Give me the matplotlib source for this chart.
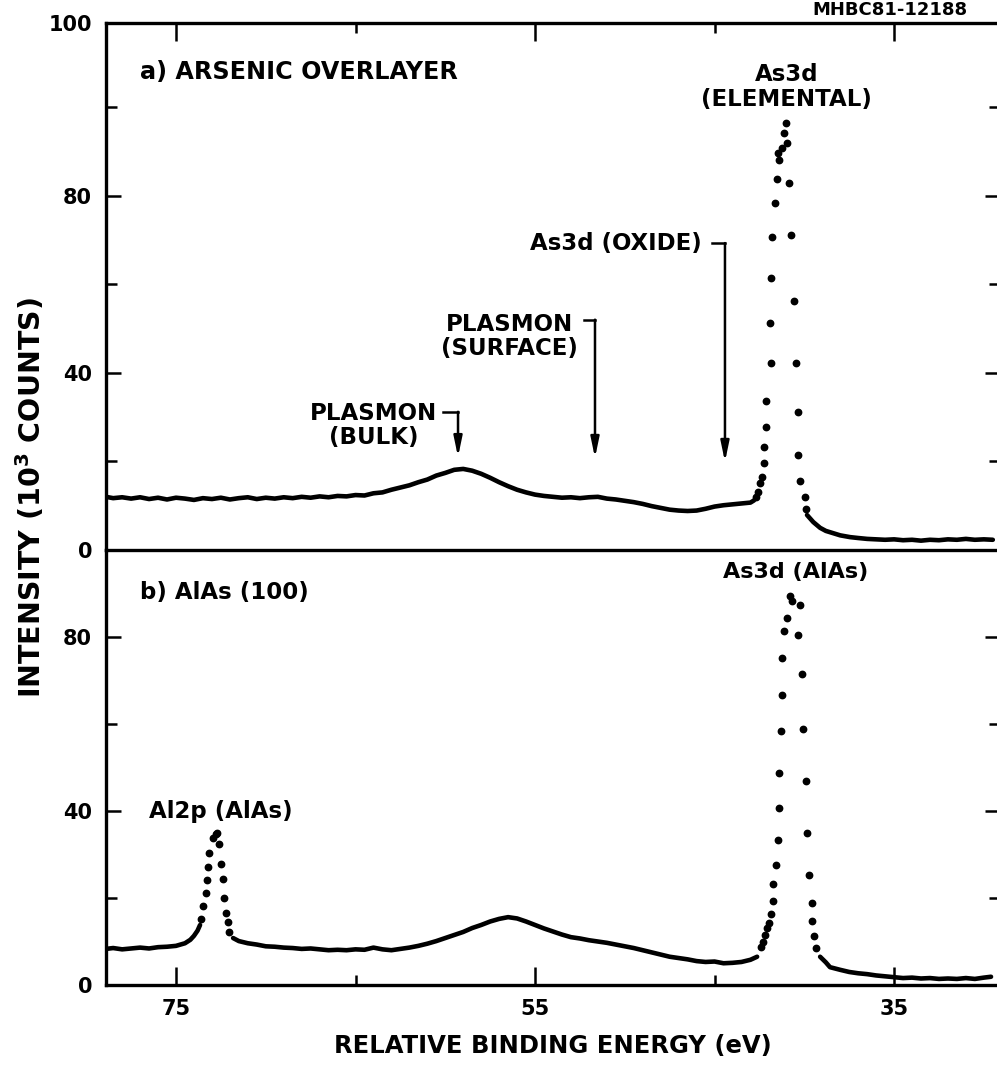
import matplotlib
matplotlib.use("Agg")
import matplotlib.pyplot as plt

plt.rcParams['font.family'] = ['DejaVu Sans']
plt.rcParams['font.weight'] = 'bold'
plt.rcParams['mathtext.fontset'] = 'custom'
plt.rcParams['mathtext.bf'] = 'DejaVu Sans:bold'
plt.rcParams['mathtext.rm'] = 'DejaVu Sans:bold'
plt.rcParams['mathtext.default'] = 'bf'

# a) arsenic overlayer : smooth background, As3d peak (sparse points), tail
a_energy = [78.9, 78.5, 78.0, 77.5, 77.0, 76.5, 76.0, 75.5, 75.0, 74.5, 74.0, 73.5,
            73.0, 72.5, 72.0, 71.5, 71.0, 70.5, 70.0, 69.5, 69.0, 68.5, 68.0, 67.5,
            67.0, 66.5, 66.0, 65.5, 65.0, 64.5, 64.0, 63.5, 63.0, 62.5, 62.0, 61.5,
            61.0, 60.5, 60.0, 59.5, 59.0, 58.5, 58.0, 57.5, 57.0, 56.5, 56.0, 55.5,
            55.0, 54.5, 54.0, 53.5, 53.0, 52.5, 52.0, 51.5, 51.0, 50.5, 50.0, 49.5,
            49.0, 48.5, 48.0, 47.5, 47.0, 46.5, 46.0, 45.5, 45.0, 44.5, 44.0, 43.5,
            43.0, 42.8]
a_counts = [12.0, 11.7, 11.9, 11.6, 11.9, 11.5, 11.8, 11.4, 11.8, 11.6, 11.3, 11.7,
            11.5, 11.8, 11.4, 11.7, 11.9, 11.5, 11.8, 11.6, 11.9, 11.7, 12.0, 11.8,
            12.1, 11.9, 12.2, 12.1, 12.4, 12.3, 12.8, 13.0, 13.6, 14.1, 14.6, 15.3,
            15.9, 16.8, 17.4, 18.1, 18.3, 17.9, 17.2, 16.3, 15.3, 14.4, 13.6, 13.0,
            12.5, 12.2, 12.0, 11.8, 11.9, 11.7, 11.9, 12.0, 11.6, 11.4, 11.1, 10.8,
            10.4, 9.9, 9.5, 9.1, 8.9, 8.8, 8.9, 9.3, 9.8, 10.1, 10.3, 10.5,
            10.7, 11.2]
a_peak_energy = [42.69, 42.58, 42.47, 42.35, 42.24, 42.24, 42.13, 42.13, 41.85, 41.91,
                 41.85, 41.80, 41.63, 41.52, 41.41, 41.46, 41.24, 41.13, 41.02, 40.96,
                 40.85, 40.74, 40.57, 40.46, 40.35, 40.35, 40.24, 39.96, 39.90]
a_peak_counts = [12.0, 13.1, 15.1, 16.5, 19.6, 23.3, 27.8, 33.6, 42.2, 51.2,
                 61.4, 70.7, 78.3, 83.7, 88.0, 89.6, 90.7, 94.1, 96.4, 91.9,
                 82.8, 71.1, 56.2, 42.2, 31.2, 21.4, 15.6, 12.0, 9.3]
a_tail_energy = [39.85, 39.5, 39.12, 38.8, 38.4, 38.0, 37.45, 37.0, 36.5, 36.0, 35.5,
                 35.0, 34.5, 34.0, 33.5, 33.0, 32.5, 32.0, 31.5, 31.0, 30.5, 30.0, 29.5]
a_tail_counts = [7.9, 6.3, 5.0, 4.3, 3.8, 3.3, 2.9, 2.7, 2.5, 2.4, 2.3,
                 2.4, 2.2, 2.3, 2.1, 2.3, 2.2, 2.4, 2.3, 2.5, 2.3, 2.4, 2.3]

# b) AlAs (100)
b_left_energy = [78.9, 78.5, 78.0, 77.5, 77.0, 76.5, 76.0, 75.5, 75.0, 74.5, 74.2,
                 74.0, 73.8, 73.66]
b_left_counts = [8.3, 8.5, 8.2, 8.4, 8.6, 8.4, 8.7, 8.8, 9.0, 9.6, 10.4,
                 11.3, 12.5, 13.8]
b_al_energy = [73.61, 73.50, 73.33, 73.27, 73.22, 73.16, 72.94, 72.77, 72.72, 72.60,
               72.49, 72.38, 72.33, 72.21, 72.10, 72.05]
b_al_counts = [15.2, 18.2, 21.2, 24.2, 27.2, 30.4, 33.9, 34.6, 35.0, 32.5,
               27.9, 24.4, 20.0, 16.6, 14.5, 12.2]
b_mid_energy = [71.82, 71.5, 71.0, 70.5, 70.0, 69.5, 69.0, 68.5, 68.0, 67.5, 67.0,
                66.5, 66.0, 65.5, 65.0, 64.5, 64.0, 63.5, 63.0, 62.5, 62.0, 61.5,
                61.0, 60.5, 60.0, 59.5, 59.0, 58.5, 58.0, 57.5, 57.0, 56.5, 56.0,
                55.5, 55.0, 54.5, 54.0, 53.5, 53.0, 52.5, 52.0, 51.5, 51.0, 50.5,
                50.0, 49.5, 49.0, 48.5, 48.0, 47.5, 47.0, 46.5, 46.0, 45.5, 45.0,
                44.5, 44.0, 43.5, 43.0, 42.63]
b_mid_counts = [10.8, 10.1, 9.6, 9.3, 8.9, 8.8, 8.6, 8.5, 8.3, 8.4, 8.2,
                8.0, 8.1, 8.0, 8.2, 8.1, 8.6, 8.2, 8.0, 8.3, 8.6, 9.0,
                9.5, 10.1, 10.8, 11.5, 12.2, 13.1, 13.8, 14.6, 15.2, 15.6, 15.3,
                14.6, 13.8, 13.0, 12.3, 11.6, 11.0, 10.7, 10.3, 10.0, 9.7, 9.3,
                8.9, 8.5, 8.0, 7.5, 7.0, 6.5, 6.2, 5.9, 5.5, 5.3, 5.4,
                5.0, 5.1, 5.3, 5.8, 6.5]
b_as_energy = [42.41, 42.30, 42.19, 42.08, 41.96, 41.85, 41.74, 41.74, 41.57, 41.46,
               41.41, 41.41, 41.30, 41.24, 41.24, 41.13, 40.96, 40.80, 40.68, 40.26,
               40.35, 40.13, 40.07, 39.90, 39.85, 39.74, 39.57, 39.57, 39.46, 39.35]
b_as_counts = [8.8, 9.9, 11.5, 13.1, 14.3, 16.4, 19.4, 23.3, 27.6, 33.4,
               40.6, 48.8, 58.3, 66.6, 75.1, 81.3, 84.3, 89.5, 88.2, 87.3,
               80.4, 71.4, 58.8, 47.0, 35.0, 25.3, 18.9, 14.7, 11.3, 8.5]
b_tail_energy = [39.12, 38.8, 38.57, 38.01, 37.5, 37.0, 36.5, 36.0, 35.5, 35.0, 34.5,
                 34.0, 33.5, 33.0, 32.5, 32.0, 31.5, 31.0, 30.5, 30.0, 29.6]
b_tail_counts = [6.5, 5.2, 4.1, 3.5, 3.0, 2.7, 2.5, 2.2, 2.0, 1.8, 1.6,
                 1.7, 1.5, 1.6, 1.4, 1.5, 1.4, 1.6, 1.4, 1.7, 1.9]

x_major = [75, 55, 35]
x_minor = [65, 45]

fig = plt.figure(figsize=(9.97, 10.65), dpi=100)
ax_a = fig.add_axes([0.1063, 0.4836, 0.8967, 0.4948])
ax_b = fig.add_axes([0.1063, 0.0751, 0.8967, 0.4085], sharex=ax_a)
ax_a.set_facecolor('none')
ax_b.set_facecolor('none')

line_kw = dict(color='black', lw=3.3, solid_capstyle='round', solid_joinstyle='round')
dot_kw = dict(color='black', ls='none', marker='o', ms=4.6)

ax_a.plot(a_energy, a_counts, **line_kw)
ax_a.plot(a_peak_energy, a_peak_counts, **dot_kw)
ax_a.plot(a_tail_energy, a_tail_counts, **line_kw)

ax_b.plot(b_left_energy, b_left_counts, **line_kw)
ax_b.plot(b_al_energy, b_al_counts, **dot_kw)
ax_b.plot(b_mid_energy, b_mid_counts, **line_kw)
ax_b.plot(b_as_energy, b_as_counts, **dot_kw)
ax_b.plot(b_tail_energy, b_tail_counts, **line_kw)

ax_a.set_xlim(78.9, 29.1)
ax_a.set_ylim(0, 119)
ax_b.set_ylim(0, 100)

for ax in (ax_a, ax_b):
    for s in ax.spines.values():
        s.set_linewidth(2.4)
    ax.set_xticks(x_major)
    ax.set_xticks(x_minor, minor=True)
    ax.tick_params(which='both', direction='in', left=True, right=True, width=1.8,
                   labelsize=15, pad=10)
    ax.tick_params(axis='y', which='major', length=11)
    ax.tick_params(axis='y', which='minor', length=8)
    ax.tick_params(axis='x', which='major', length=13)
    ax.tick_params(axis='x', which='minor', length=7)

ax_b.spines['top'].set_visible(False)
ax_a.tick_params(axis='x', which='both', top=True, bottom=False, labelbottom=False)
ax_b.tick_params(axis='x', which='both', top=False, bottom=True)
ax_b.set_xticklabels([str(v) for v in x_major])

ax_a.set_yticks([0, 40, 80, 119])
ax_a.set_yticklabels(['0', '40', '80', '100'])
ax_a.set_yticks([20, 60, 100], minor=True)
ax_b.set_yticks([0, 40, 80])
ax_b.set_yticks([20, 60], minor=True)

txt = dict(fontsize=16.5, fontweight='bold')
arrow = dict(arrowstyle='-|>,head_length=1.2,head_width=0.25', color='black', lw=1.8,
             shrinkA=0, shrinkB=0)

ax_a.text(77.0, 107.9, 'a) ARSENIC OVERLAYER', ha='left', va='center',
          fontsize=17.2, fontweight='bold')
ax_a.text(41.0, 104.6, 'As3d\n(ELEMENTAL)', ha='center', va='center', linespacing=1.1, **txt)

# As3d oxide marker
ax_a.text(45.7, 69.3, 'As3d (OXIDE)', ha='right', va='center', **txt)
ax_a.plot([45.14, 44.42], [69.3, 69.3], color='black', lw=1.8)
ax_a.annotate('', xy=(44.42, 19.9), xytext=(44.42, 69.3), arrowprops=arrow)

# surface plasmon
ax_a.text(52.6, 48.2, 'PLASMON\n(SURFACE)', ha='right', va='center', linespacing=1.1,
          multialignment='center', **txt)
ax_a.plot([52.3, 51.66], [52.0, 52.0], color='black', lw=1.8)
ax_a.annotate('', xy=(51.66, 20.8), xytext=(51.66, 52.0), arrowprops=arrow)

# bulk plasmon
ax_a.text(60.46, 28.1, 'PLASMON\n(BULK)', ha='right', va='center', linespacing=1.1,
          multialignment='center', **txt)
ax_a.plot([60.1, 59.29], [31.2, 31.2], color='black', lw=1.8)
ax_a.annotate('', xy=(59.29, 21.0), xytext=(59.29, 31.2), arrowprops=arrow)

ax_b.text(77.0, 90.3, 'b) AlAs (100)', ha='left', va='center', **txt)
ax_b.text(40.46, 94.9, 'As3d (AlAs)', ha='center', va='center', fontsize=16, fontweight='bold')
ax_b.text(72.49, 39.9, 'Al2p (AlAs)', ha='center', va='center', **txt)

ax_b.set_xlabel('RELATIVE BINDING ENERGY (eV)', fontsize=17.5, fontweight='bold', labelpad=11)
fig.text(0.031, 0.533, r'INTENSITY (10$^{3}$ COUNTS)', rotation=90, ha='center',
         va='center', fontsize=20.5, fontweight='bold')
fig.text(0.815, 0.999, 'MHBC81-12188', ha='left', va='top',
         fontsize=13, fontweight='bold')

fig.savefig('out.png', dpi=100)
